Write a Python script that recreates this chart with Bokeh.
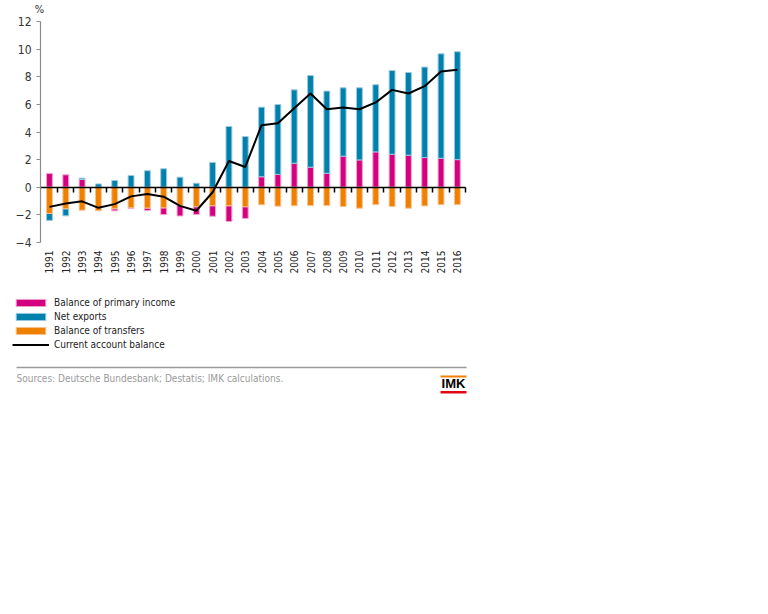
import numpy as np
from bokeh.plotting import figure
from bokeh.models import Range1d, FixedTicker, LinearAxis, Legend, LegendItem, Label, ColumnDataSource
from bokeh.layouts import column
from bokeh.embed import file_html
from bokeh.resources import INLINE

# ---------------- data ----------------
years = list(range(1991, 2017))
primary_income = [1.0, 0.9, 0.56, 0.0, -0.15, -0.03, -0.17, -0.49, -0.76, -0.56, -0.76, -1.14, -0.85,
                  0.76, 0.93, 1.74, 1.45, 1.01, 2.25, 1.98, 2.56, 2.39, 2.32, 2.15, 2.10, 2.00]
net_exports = [-0.5, -0.51, 0.1, 0.24, 0.49, 0.85, 1.2, 1.34, 0.73, 0.29, 1.8, 4.4, 3.67,
               5.04, 5.06, 5.31, 6.64, 5.95, 4.95, 5.22, 4.86, 6.06, 5.99, 6.55, 7.56, 7.81]
transfers = [-1.9, -1.56, -1.66, -1.7, -1.56, -1.49, -1.51, -1.49, -1.32, -1.41, -1.34, -1.34, -1.41,
             -1.27, -1.37, -1.34, -1.33, -1.33, -1.4, -1.52, -1.26, -1.4, -1.52, -1.35, -1.26, -1.26]
current_account = [-1.42, -1.17, -1.02, -1.49, -1.22, -0.66, -0.49, -0.68, -1.35, -1.7, -0.36, 1.9, 1.47,
                   4.49, 4.64, 5.72, 6.79, 5.65, 5.77, 5.65, 6.14, 7.05, 6.79, 7.32, 8.38, 8.5]
y_ticks = [-4, -2, 0, 2, 4, 6, 8, 10, 12]
series_names = ["Balance of primary income", "Net exports", "Balance of transfers", "Current account balance"]
source_text = "Sources: Deutsche Bundesbank; Destatis; IMK calculations."

FONT = "DejaVu Sans Condensed, sans-serif"
PINK, BLUE, ORANGE = "#D4007F", "#0080AD", "#F08000"
PINK_E, BLUE_E, ORANGE_E = "#EEA6CC", "#9CC9DE", "#F8C496"

# ---------------- stacking (negative: transfers, primary, net; positive: primary, net) ----------------
n = len(years)
pos = np.zeros(n)
neg = np.zeros(n)
stacks = {}
for name, vals in (("tr", transfers), ("pi", primary_income), ("ne", net_exports)):
    v = np.array(vals, dtype=float)
    bottom = np.where(v >= 0, pos, neg)
    top = bottom + v
    pos = np.where(v >= 0, top, pos)
    neg = np.where(v < 0, top, neg)
    stacks[name] = (bottom, top)

src = ColumnDataSource(dict(
    x=years,
    pi_b=stacks["pi"][0], pi_t=stacks["pi"][1],
    ne_b=stacks["ne"][0], ne_t=stacks["ne"][1],
    tr_b=stacks["tr"][0], tr_t=stacks["tr"][1],
    ca=current_account,
))

# ---------------- layout geometry (pixels) ----------------
W, H = 488, 400
X0, X1 = years[0] - 0.55, years[-1] + 0.5      # category extent of the chart
PX_L, PX_R, PY_T, PY_B = 40, 465, 21, 242         # chart area in pixels
sx = (PX_R - PX_L) / (X1 - X0)
sy = (PY_B - PY_T) / (y_ticks[-1] - y_ticks[0])
x_start = X0 - PX_L / sx
x_end = X1 + (W - PX_R) / sx
y_top = y_ticks[-1] + PY_T / sy
y_bot = y_ticks[0] - (H - PY_B) / sy


def X(px):
    return x_start + px / sx


def Y(py):
    return y_top - py / sy


p = figure(width=W, height=H, x_range=Range1d(x_start, x_end), y_range=Range1d(y_bot, y_top),
           output_backend="svg", toolbar_location=None, x_axis_type=None, y_axis_type=None,
           min_border=0)
p.outline_line_color = None
p.grid.visible = False

bw = 0.36
bar_style = dict(width=bw, source=src, line_width=1)
r_pi = p.vbar(x="x", bottom="pi_b", top="pi_t", fill_color=PINK, line_color=PINK_E, **bar_style)
r_ne = p.vbar(x="x", bottom="ne_b", top="ne_t", fill_color=BLUE, line_color=BLUE_E, **bar_style)
r_tr = p.vbar(x="x", bottom="tr_b", top="tr_t", fill_color=ORANGE, line_color=ORANGE_E, **bar_style)
r_ca = p.line(x="x", y="ca", source=src, line_color="black", line_width=2)

# year labels under the chart
xa = LinearAxis(fixed_location=y_ticks[0], ticker=FixedTicker(ticks=years),
                major_label_orientation=np.pi / 2, axis_line_color=None,
                major_tick_line_color=None, major_tick_in=0, major_tick_out=0,
                minor_tick_line_color=None, minor_tick_out=0,
                major_label_standoff=8, major_label_text_font=FONT,
                major_label_text_font_size="10px", major_label_text_color="#222222")
p.add_layout(xa, "below")

# zero line with ticks between the categories (no labels)
zax = LinearAxis(fixed_location=0, bounds=(X0, X1), ticker=FixedTicker(ticks=[y + 0.5 for y in years]),
                 axis_line_color="black", axis_line_width=1.5,
                 major_tick_in=0, major_tick_out=5, major_tick_line_color="black",
                 major_tick_line_width=1.5, minor_tick_line_color=None,
                 major_label_text_color=None, major_label_standoff=0)
p.add_layout(zax, "below")

ya = LinearAxis(fixed_location=X0, bounds=(y_ticks[0], y_ticks[-1]), ticker=FixedTicker(ticks=y_ticks),
                axis_line_color="#8c8c8c", axis_line_width=1.2, major_tick_line_color="#8c8c8c",
                major_tick_in=0, major_tick_out=4, minor_tick_line_color=None,
                major_label_standoff=5, major_label_text_font=FONT,
                major_label_text_font_size="12px", major_label_text_color="#333333")
p.add_layout(ya, "left")

p.add_layout(Label(x=X(39), y=Y(15), text="%", text_align="center", text_baseline="bottom",
                   text_font=FONT, text_font_size="11px", text_color="#333333"))

legend = Legend(items=[LegendItem(label=series_names[0], renderers=[r_pi]),
                       LegendItem(label=series_names[1], renderers=[r_ne]),
                       LegendItem(label=series_names[2], renderers=[r_tr]),
                       LegendItem(label=series_names[3], renderers=[r_ca])],
                location=(12, H - 351), orientation="vertical",
                glyph_width=37, glyph_height=9, label_standoff=5, label_height=13, spacing=1,
                padding=0, margin=0, border_line_color=None, background_fill_alpha=0,
                label_text_font=FONT, label_text_font_size="10px", label_text_color="#222222")
p.add_layout(legend, "center")

# footer: separator, source, logo
p.segment(x0=[X(16)], y0=[Y(367)], x1=[X(466)], y1=[Y(367)], line_color="#9a9a9a", line_width=1.5)
p.add_layout(Label(x=X(16), y=Y(372), text=source_text, text_baseline="top", text_align="left",
                   text_font=FONT, text_font_size="10px", text_color="#9a9a9a"))
p.quad(left=[X(440)], right=[X(466)], top=[Y(375)], bottom=[Y(377)], fill_color="#F08000", line_color=None)
p.quad(left=[X(440)], right=[X(466)], top=[Y(390.5)], bottom=[Y(393)], fill_color="#E30613", line_color=None)
p.add_layout(Label(x=X(453), y=Y(383.3), text="IMK", text_baseline="middle", text_align="center",
                   text_font="Liberation Sans", text_font_style="bold",
                   text_font_size="13px", text_color="black"))

layout = column(p, spacing=0)
open("out.html", "w").write(file_html(layout, INLINE))
